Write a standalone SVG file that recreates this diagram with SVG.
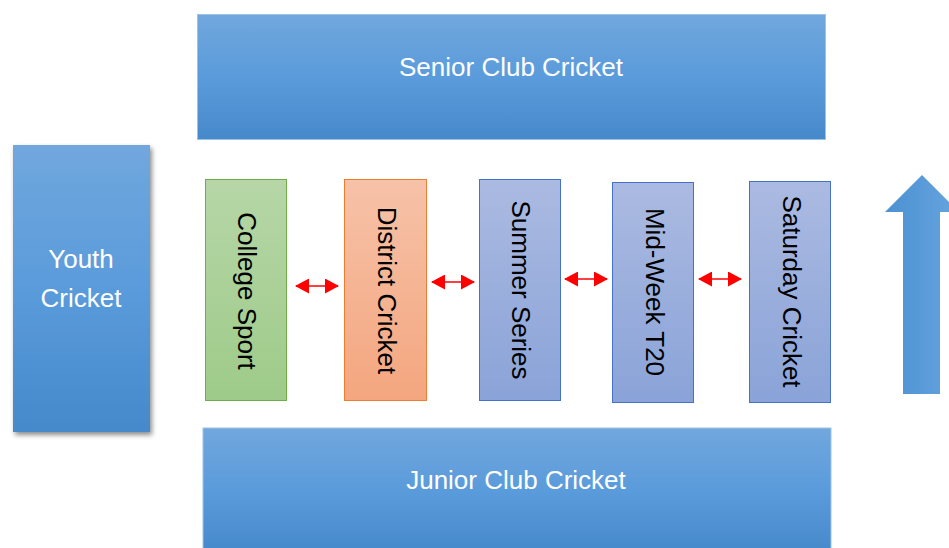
<svg xmlns="http://www.w3.org/2000/svg" width="949" height="548" viewBox="0 0 949 548">
<defs>
<linearGradient id="gBlue" x1="0" y1="0" x2="0" y2="1"><stop offset="0" stop-color="#71a7dd"/><stop offset="0.5" stop-color="#5a9bdb"/><stop offset="1" stop-color="#4689ca"/></linearGradient>
<linearGradient id="gGreen" x1="0" y1="0" x2="0" y2="1"><stop offset="0" stop-color="#b6d6a7"/><stop offset="1" stop-color="#9ecb89"/></linearGradient>
<linearGradient id="gOrange" x1="0" y1="0" x2="0" y2="1"><stop offset="0" stop-color="#f6c2a8"/><stop offset="1" stop-color="#f4a67f"/></linearGradient>
<linearGradient id="gPurple" x1="0" y1="0" x2="0" y2="1"><stop offset="0" stop-color="#abbae1"/><stop offset="1" stop-color="#8aa3d8"/></linearGradient>
<linearGradient id="gArrow" x1="0" y1="0" x2="1" y2="0"><stop offset="0" stop-color="#4c91d2"/><stop offset="1" stop-color="#66a4de"/></linearGradient>
<filter id="shadow" x="-20%" y="-10%" width="150%" height="130%"><feDropShadow dx="2" dy="3" stdDeviation="2.5" flood-color="#000" flood-opacity="0.45"/></filter>
<marker id="head" viewBox="0 0 14 15" refX="13" refY="7.5" markerWidth="14" markerHeight="15" markerUnits="userSpaceOnUse" orient="auto-start-reverse"><path d="M0,0 L14,7.5 L0,15 Z" fill="#ff0000"/></marker>
</defs>
<style>
.wt{font-family:"Liberation Sans",Arial,sans-serif;font-size:26px;fill:#ffffff;text-anchor:middle}
.bt{font-family:"Liberation Sans",Arial,sans-serif;font-size:26px;fill:#000000;text-anchor:middle}
.conn{stroke:#ff0000;stroke-width:1.5;fill:none;marker-start:url(#head);marker-end:url(#head)}
</style>
<rect width="949" height="548" fill="#ffffff"/>
<g id="senior">
<rect x="197.5" y="14.5" width="628" height="125" fill="url(#gBlue)" stroke="#9cc3e6" stroke-width="1"/>
<text class="wt" x="511" y="76">Senior Club Cricket</text>
</g>
<g id="youth">
<rect x="13" y="145" width="137" height="287" fill="url(#gBlue)" filter="url(#shadow)"/>
<text class="wt" x="81" y="268">Youth</text>
<text class="wt" x="81" y="307">Cricket</text>
</g>
<g id="college">
<rect x="205.5" y="179.5" width="81" height="221" fill="url(#gGreen)" stroke="#70ad47" stroke-width="1"/>
<text class="bt" transform="translate(238,291) rotate(90)">College Sport</text>
</g>
<g id="district">
<rect x="344.5" y="179.5" width="82" height="221" fill="url(#gOrange)" stroke="#ed7d31" stroke-width="1"/>
<text class="bt" transform="translate(378,290.5) rotate(90)">District Cricket</text>
</g>
<g id="summer">
<rect x="479.5" y="179.5" width="81" height="221" fill="url(#gPurple)" stroke="#4472c4" stroke-width="1"/>
<text class="bt" transform="translate(512,290) rotate(90)">Summer Series</text>
</g>
<g id="midweek">
<rect x="612.5" y="182.5" width="81" height="220" fill="url(#gPurple)" stroke="#4472c4" stroke-width="1"/>
<text class="bt" transform="translate(646,292) rotate(90)">Mid-Week T20</text>
</g>
<g id="saturday">
<rect x="749.5" y="181.5" width="81" height="221" fill="url(#gPurple)" stroke="#4472c4" stroke-width="1"/>
<text class="bt" transform="translate(783,291.5) rotate(90)">Saturday Cricket</text>
</g>
<g id="junior">
<rect x="203" y="428" width="628" height="125" fill="url(#gBlue)" stroke="#9cc3e6" stroke-width="1"/>
<text class="wt" x="516" y="489">Junior Club Cricket</text>
</g>
<g id="up-arrow">
<polygon points="922,175 959,212 940,212 940,394 903,394 903,212 885,212" fill="url(#gArrow)"/>
</g>
<g id="connectors">
<line class="conn" x1="296" y1="286" x2="338" y2="286"/>
<line class="conn" x1="432" y1="282" x2="474" y2="282"/>
<line class="conn" x1="565" y1="279" x2="607" y2="279"/>
<line class="conn" x1="699" y1="279" x2="741" y2="279"/>
</g>
</svg>
